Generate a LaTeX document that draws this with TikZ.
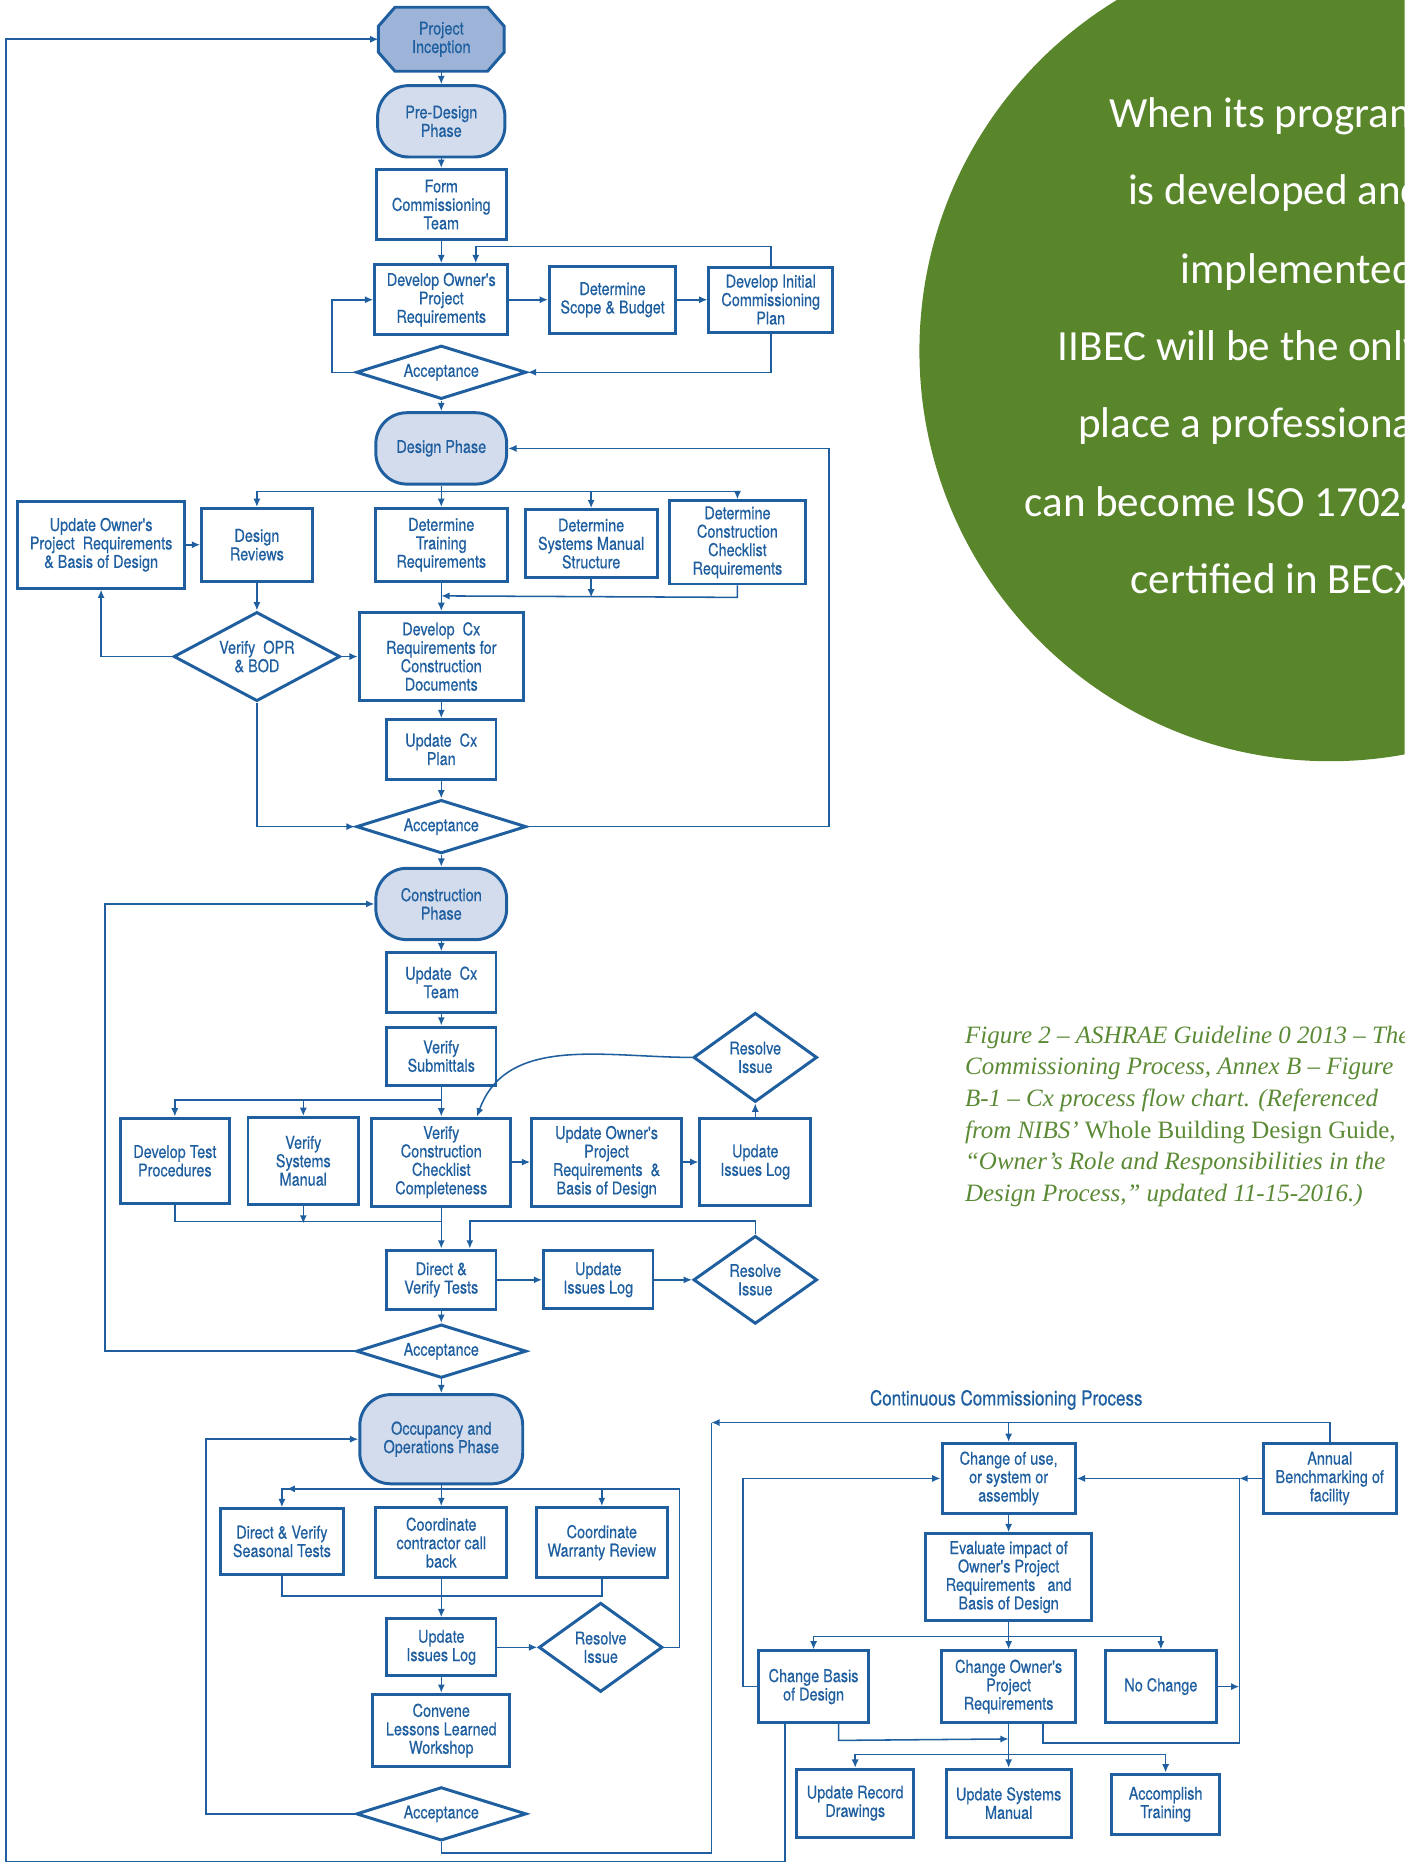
\documentclass[tikz,border=0pt]{standalone}
\usepackage{fontspec}
\usetikzlibrary{shapes.geometric,arrows.meta,backgrounds}
\newfontfamily\chartfont{TeX Gyre Heros}[FakeStretch=0.82,FakeBold=0.5]
\newfontfamily\notefont{Carlito}
\newfontfamily\capfont{Liberation Serif}
\definecolor{cxblue}{HTML}{1F5FA0}
\definecolor{phasefill}{HTML}{D3DCEC}
\definecolor{startfill}{HTML}{9DB4D8}
\definecolor{cxgreen}{HTML}{5A862B}
\definecolor{capgreen}{HTML}{5B8A35}

\begin{document}
\begin{tikzpicture}[
  x=0.5pt, y=-0.5pt,
  font=\chartfont\fontsize{7.4}{7.75}\selectfont,
  text=cxblue,
  >={Latex[length=3.5pt,width=3pt]},
  box/.style={
    draw=cxblue,
    line width=1.25pt,
    align=center,
    inner sep=1pt
  },
  wh/.style 2 args={minimum width=#1*0.5pt, minimum height=#2*0.5pt},
  phase/.style={box, rounded corners=13pt, fill=phasefill},
  start/.style={align=center, inner sep=1pt},
  startshape/.style={draw=cxblue, line width=1.25pt, fill=startfill},
  decision/.style={box, diamond, inner sep=0pt, aspect=#1},
  decision/.default=1.4,
  arrow/.style={->, draw=cxblue, line width=0.65pt},
  link/.style={draw=cxblue, line width=0.65pt},
  note/.style={font=\notefont\fontsize{18.1}{20}\selectfont, text=white, inner sep=0pt, anchor=base west},
  caption/.style={font=\capfont\itshape\fontsize{10.5}{13.3}\selectfont, text=capgreen, align=left, inner sep=0pt}
]
\useasboundingbox (0,0) rectangle (1181,1568);

% green call-out and figure caption
\begin{scope}
\clip (0,0) rectangle (1181,1568);
\fill[cxgreen] (1118,295) circle [radius=345];
\node[note] (note1) at (932,107) {When its program};
\node[note] (note2) at (948,172) {is developed and};
\node[note] (note3) at (992,238) {implemented,};
\node[note] (note4) at (889,303) {IIBEC will be the only};
\node[note] (note5) at (906,368) {place a professional};
\node[note] (note6) at (861,434) {can become ISO 17024};
\node[note] (note7) at (950,499) {certified in BECx};
\node[caption, anchor=north west] (caption) at (811,862) {
  Figure 2 – ASHRAE Guideline 0 2013 – The\\
  Commissioning Process, Annex B – Figure\\
  B-1 – Cx process flow chart. (Referenced\\
  from NIBS’ {\upshape Whole Building Design Guide,}\\
  “Owner’s Role and Responsibilities in the\\
  Design Process,” updated 11-15-2016.)
};
\end{scope}

% pre-design
\node[start, wh={105}{53}] (inception) at (371,33) {Project\\Inception};
\begin{scope}[on background layer]
\draw[startshape] ([xshift=7pt]inception.north west) -- ([xshift=-7pt]inception.north east)
  -- ([yshift=-8pt]inception.north east) -- ([yshift=8pt]inception.south east)
  -- ([xshift=-7pt]inception.south east) -- ([xshift=7pt]inception.south west)
  -- ([yshift=8pt]inception.south west) -- ([yshift=-8pt]inception.north west) -- cycle;
\end{scope}
\node[phase, wh={107}{60}] (predesign) at (371,102) {Pre-Design\\Phase};
\node[box, wh={109}{59}] (formteam) at (371,172) {Form\\Commissioning\\Team};
\node[box, wh={112}{59}] (devopr) at (371,252) {Develop Owner's\\Project\\Requirements};
\node[box, wh={106}{56}] (scope) at (515,252) {Determine\\Scope \& Budget};
\node[box, wh={104}{55}] (initplan) at (648,252) {Develop Initial\\Commissioning\\Plan};
\node[decision=3.2, wh={143}{45}] (accept1) at (371,313) {Acceptance};

% design
\node[phase, wh={110}{60}] (designph) at (371,377) {Design Phase};
\node[box, wh={140}{73}] (updopr) at (85,458) {Update Owner's\\Project\ \ Requirements\\\& Basis of Design};
\node[box, wh={93}{61}] (reviews) at (216,458) {Design\\Reviews};
\node[box, wh={111}{61}] (trainreq) at (371,458) {Determine\\Training\\Requirements};
\node[box, wh={111}{57}] (manualstruct) at (497,457) {Determine\\Systems Manual\\Structure};
\node[box, wh={114}{70}] (checkreq) at (620,456) {Determine\\Construction\\Checklist\\Requirements};
\node[decision=1.9, wh={140}{75}] (verifyopr) at (216,552) {Verify\ \ OPR\\\& BOD};
\node[box, wh={138}{74}] (cxreq) at (371,552) {Develop\ \ Cx\\Requirements for\\Construction\\Documents};
\node[box, wh={92}{50}] (cxplan) at (371,630) {Update\ \ Cx\\Plan};
\node[decision=3.2, wh={143}{45}] (accept2) at (371,695) {Acceptance};

% construction
\node[phase, wh={110}{60}] (constph) at (371,760) {Construction\\Phase};
\node[box, wh={92}{50}] (cxteam) at (371,826) {Update\ \ Cx\\Team};
\node[box, wh={92}{49}] (submittals) at (371,888) {Verify\\Submittals};
\node[box, wh={92}{72}] (testproc) at (147,976) {Develop Test\\Procedures};
\node[box, wh={93}{73}] (verifysm) at (255,976) {Verify\\Systems\\Manual};
\node[box, wh={117}{74}] (vcc) at (371,977) {Verify\\Construction\\Checklist\\Completeness};
\node[box, wh={126}{74}] (updopr2) at (510,977) {Update Owner's\\Project\\Requirements\ \ \&\\Basis of Design};
\node[box, wh={93}{73}] (issues1) at (635,977) {Update\\Issues Log};
\node[decision, wh={104}{75}] (resolve1) at (635,889) {Resolve\\Issue};
\node[box, wh={92}{50}] (dvtests) at (371,1076) {Direct \&\\Verify Tests};
\node[box, wh={92}{49}] (issues2) at (503,1076) {Update\\Issues Log};
\node[decision, wh={104}{74}] (resolve2) at (635,1076) {Resolve\\Issue};
\node[decision=3.2, wh={143}{45}] (accept3) at (371,1136) {Acceptance};

% occupancy
\node[phase, wh={137}{75}] (occph) at (371,1210) {Occupancy and\\Operations Phase};
\node[box, wh={103}{55}] (seasonal) at (237,1296) {Direct \& Verify\\Seasonal Tests};
\node[box, wh={110}{59}] (callback) at (371,1297) {Coordinate\\contractor call\\back};
\node[box, wh={110}{59}] (warranty) at (506,1297) {Coordinate\\Warranty Review};
\node[box, wh={92}{48}] (issues3) at (371,1385) {Update\\Issues Log};
\node[decision, wh={104}{75}] (resolve3) at (505,1385) {Resolve\\Issue};
\node[box, wh={115}{61}] (lessons) at (371,1455) {Convene\\Lessons Learned\\Workshop};
\node[decision=3.2, wh={143}{45}] (accept4) at (371,1525) {Acceptance};

% continuous commissioning
\node[font=\chartfont\fontsize{8.7}{9}\selectfont] (cctitle) at (846,1177) {Continuous Commissioning Process};
\node[box, wh={112}{59}] (changeuse) at (848,1243) {Change of use,\\or system or\\assembly};
\node[box, wh={112}{59}] (annual) at (1118,1243) {Annual\\Benchmarking of\\facility};
\node[box, wh={139}{73}] (evaluate) at (848,1326) {Evaluate impact of\\Owner's Project\\Requirements\ \ \ and\\Basis of Design};
\node[box, wh={92}{60}] (changebod) at (684,1418) {Change Basis\\of Design};
\node[box, wh={113}{60}] (changeopr) at (848,1418) {Change Owner's\\Project\\Requirements};
\node[box, wh={93}{60}] (nochange) at (976,1418) {No Change};
\node[box, wh={98}{57}] (recdraw) at (719,1516) {Update Record\\Drawings};
\node[box, wh={105}{57}] (sysmanual) at (848,1516) {Update Systems\\Manual};
\node[box, wh={91}{51}] (acctrain) at (980,1517) {Accomplish\\Training};

% pre-design links
\draw[arrow] (inception) -- (predesign);
\draw[arrow] (predesign) -- (formteam);
\draw[arrow] (formteam) -- (devopr);
\draw[arrow] (devopr) -- (scope);
\draw[arrow] (scope) -- (initplan);
\draw[arrow] (initplan.north) -- ++(0,-16) -| ([xshift=14.5pt]devopr.north);
\draw[arrow] (initplan.south) |- (accept1.east);
\draw[arrow] (accept1.west) -- ++(-19,0) |- (devopr.west);
\draw[arrow] (accept1) -- (designph);

% design links
\draw[link] (designph.south) -- ++(0,5) coordinate (dbus);
\draw[arrow] (dbus) -| (reviews.north);
\draw[arrow] (dbus) -- (trainreq.north);
\draw[arrow] (dbus) -| (manualstruct.north);
\draw[arrow] (dbus) -| (checkreq.north);
\draw[arrow] (updopr) -- (reviews);
\draw[arrow] (reviews) -- (verifyopr);
\draw[arrow] (trainreq) -- (cxreq);
\draw[arrow] (manualstruct.south) -- ++(0,15.5);
\draw[arrow] (checkreq.south) -- ++(0,10) -- (trainreq.south |- 0,501);
\draw[arrow] (verifyopr.west) -| (updopr.south);
\draw[arrow] (verifyopr) -- (cxreq);
\draw[arrow] (cxreq) -- (cxplan);
\draw[arrow] (cxplan) -- (accept2);
\draw[arrow] (verifyopr.south) |- (accept2.west);
\draw[arrow] (accept2.east) -- ++(253,0) |- (designph.east);
\draw[arrow] (accept2) -- (constph);

% construction links
\draw[arrow] (accept3.west) -- ++(-210,0) |- (constph.west);
\draw[arrow] (constph) -- (cxteam);
\draw[arrow] (cxteam) -- (submittals);
\draw[arrow] (submittals) -- (vcc);
\draw[link] (submittals.south) -- ++(0,11) coordinate (cbus);
\draw[arrow] (cbus) -| (testproc.north);
\draw[arrow] (cbus) -| (verifysm.north);
\draw[arrow] (vcc) -- (updopr2);
\draw[arrow] (updopr2) -- (issues1);
\draw[arrow] (issues1) -- (resolve1);
\draw[arrow] (resolve1.west) to[out=180, in=70] ([xshift=15pt]vcc.north);
\draw[link] (testproc.south) |- (vcc.south |- 0,1027);
\draw[arrow] (verifysm.south) -- ++(0,15);
\draw[arrow] (vcc) -- (dvtests);
\draw[arrow] (dvtests) -- (issues2);
\draw[arrow] (issues2) -- (resolve2);
\draw[arrow] (resolve2.north) -- ++(0,-11) -| ([xshift=12pt]dvtests.north);
\draw[arrow] (dvtests) -- (accept3);
\draw[arrow] (accept3) -- (occph);

% occupancy links
\draw[arrow] (accept4.west) -- ++(-125,0) |- (occph.west);
\draw[arrow] (occph) -- (callback);
\draw[link] (occph.south) -- ++(0,3) coordinate (obus);
\draw[arrow] (obus) -| (seasonal.north);
\draw[arrow] (obus) -| (warranty.north);
\draw[arrow] (resolve3.east) -- ++(13,0) |- ([xshift=2pt]seasonal.north |- obus);
\draw[link] (seasonal.south) -- ++(0,17) -| (warranty.south);
\draw[arrow] (callback) -- (issues3);
\draw[arrow] (issues3) -- (resolve3);
\draw[arrow] (issues3) -- (lessons);

% continuous commissioning links
\coordinate (ccbus) at (598,1196);
\coordinate (ccright) at (1042,1243);
\draw[link] (accept4.south) -- ++(0,9) -| (ccbus);
\draw[arrow] (annual.north) |- (ccbus);
\draw[arrow] (changeuse.north |- ccbus) -- (changeuse);
\draw[arrow] (changeuse) -- (evaluate);
\draw[link] (evaluate.south) -- ++(0,12) coordinate (ebus);
\draw[arrow] (ebus) -| (changebod.north);
\draw[arrow] (ebus) -- (changeopr);
\draw[arrow] (ebus) -| (nochange.north);
\draw[arrow] (changebod.west) -- ++(-12,0) |- (changeuse.west);
\draw[arrow] (annual.west) -- (ccright);
\draw[arrow] ([xshift=14.5pt]changeopr.south) -- ++(0,16) -| (ccright) -- (changeuse.east);
\draw[arrow] (nochange.east) -- (nochange.east -| ccright);
\draw[arrow] ([xshift=10.5pt]changebod.south) -- ++(0,14) -- (changeopr.south |- 0,1462);
\draw[link] (changeopr.south) -- ++(0,26) coordinate (ubus);
\draw[arrow] (ubus) -| (recdraw.north);
\draw[arrow] (ubus) -- (sysmanual);
\draw[arrow] (ubus) -| (acctrain.north);
\draw[arrow] ([xshift=-12pt]changebod.south) |- (5,1565) |- (inception.west);

\end{tikzpicture}
\end{document}
